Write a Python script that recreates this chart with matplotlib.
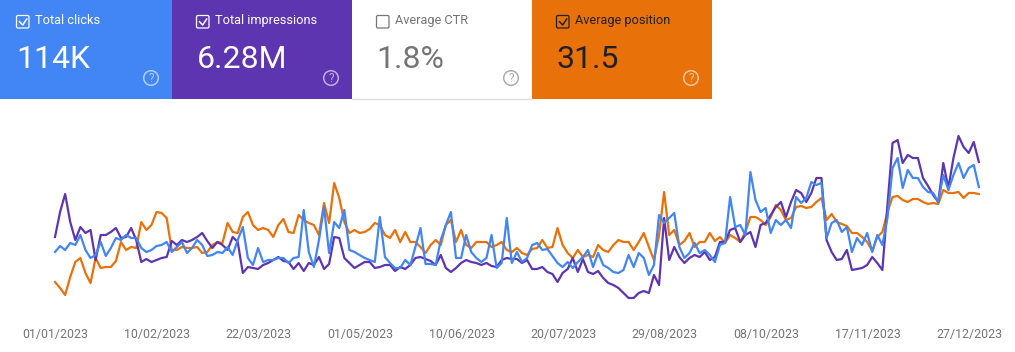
import matplotlib
matplotlib.use('Agg')
import matplotlib.pyplot as plt
from matplotlib.patches import Rectangle, Circle, FancyBboxPatch
import pandas as pd

plt.rcParams['font.family'] = ['Roboto', 'DejaVu Sans']

# kartičky nahoře
card_names = ['Total clicks', 'Total impressions', 'Average CTR', 'Average position']
card_values = ['114K', '6.28M', '1.8%', '31.5']
card_checked = [True, True, False, True]
card_colors = ['#4285f4', '#5e35b1', '#ffffff', '#e8710a']
card_text = ['#ffffff', '#ffffff', '#757575', '#202124']
help_color = ['#ffffff', '#ffffff', '#757575', '#ffffff']

# hodnoty po dvou dnech, relativní měřítko
clicks = [58, 64, 60, 67, 65, 75, 60, 52, 55, 68, 54, 62, 72, 70, 75, 72, 72, 62, 58, 60,
          64, 65, 68, 58, 63, 68, 57, 62, 70, 65, 54, 55, 58, 57, 63, 55, 70, 83, 52, 45,
          62, 48, 50, 50, 52, 52, 47,
          52, 53, 100, 58, 43, 70, 103, 57, 88, 82, 100, 60, 58, 55, 52, 50, 48, 93, 53, 47,
          42, 42, 50, 45, 63, 82, 46, 46, 45, 70, 85, 98, 52, 52, 75, 58, 52, 48, 52, 75,
          42, 47, 92, 47, 58, 48, 52,
          65, 67, 60, 61, 54, 47, 43, 48, 42, 48, 53, 60, 43, 57, 45, 42, 38, 37, 40, 55,
          43, 57, 52, 35, 45, 95, 87, 92, 97, 63, 52, 57, 67, 57, 60, 55, 48, 65, 67, 113,
          83, 85, 75, 138, 110, 98, 102,
          77, 90, 85, 90, 82, 113, 107, 112, 128, 125, 127, 72, 87, 90, 78, 83, 58, 72, 65, 77,
          58, 75, 65, 92, 142, 152, 122, 140, 132, 132, 123, 118, 117, 108, 135, 120, 135, 147,
          132, 142, 145, 123]
impressions = [73, 98, 116, 88, 70, 83, 77, 80, 50, 75, 75, 78, 82, 72, 73, 82, 70, 48, 51, 48,
               50, 52, 53, 69, 65, 70, 68, 70, 73, 77, 69, 62, 68, 65, 60, 73, 68, 37, 43, 42,
               41, 45, 47, 50, 53, 49, 48,
               41, 47, 39, 47, 45, 53, 41, 46, 73, 72, 52, 47, 42, 45, 48, 48, 42, 43, 45, 45,
               39, 43, 41, 45, 52, 53, 51, 49, 45, 55, 42, 38, 42, 47, 50, 48, 47, 45, 47, 44,
               43, 50, 52, 51, 51, 47, 50,
               41, 41, 43, 38, 36, 28, 37, 41, 52, 38, 51, 38, 36, 39, 32, 27, 25, 22, 17, 12,
               12, 17, 19, 17, 35, 25, 92, 50, 63, 53, 47, 52, 55, 53, 58, 50, 53, 68, 68, 80,
               82, 68, 75, 78, 63, 85, 87,
               95, 103, 108, 93, 108, 120, 117, 108, 117, 132, 132, 70, 58, 50, 51, 60, 40, 41, 42, 45,
               53, 47, 40, 105, 167, 170, 147, 155, 152, 152, 132, 124, 115, 108, 147, 122, 152, 174,
               163, 157, 168, 148]
position = [28, 22, 15, 33, 48, 52, 37, 27, 52, 42, 43, 43, 49, 68, 60, 63, 62, 88, 80, 85,
            98, 97, 92, 60, 60, 63, 62, 62, 63, 57, 58, 65, 68, 67, 87, 78, 77, 93, 98, 85,
            80, 82, 80, 73, 85, 91, 78,
            77, 95, 90, 87, 85, 75, 107, 87, 127, 112, 88, 77, 80, 77, 78, 81, 87, 85, 75, 72,
            80, 68, 78, 68, 68, 63, 57, 65, 70, 65, 85, 90, 68, 80, 65, 62, 68, 68, 68, 63,
            65, 68, 60, 58, 62, 57, 55,
            61, 62, 70, 62, 63, 82, 65, 57, 52, 60, 53, 55, 53, 65, 60, 58, 65, 70, 68, 68,
            60, 68, 77, 63, 50, 75, 118, 75, 80, 65, 69, 77, 63, 68, 68, 77, 69, 73, 67, 75,
            72, 68, 78, 93, 93, 90, 85,
            93, 105, 100, 90, 92, 103, 104, 102, 103, 108, 112, 90, 96, 88, 86, 84, 77, 77, 73, 68,
            59, 73, 78, 98, 113, 114, 110, 108, 111, 111, 108, 106, 107, 106, 120, 117, 117, 118,
            112, 117, 117, 116]

tick_labels = ['01/01/2023', '10/02/2023', '22/03/2023', '01/05/2023', '10/06/2023',
               '20/07/2023', '29/08/2023', '08/10/2023', '17/11/2023', '27/12/2023']

W, H = 1015, 352
fig = plt.figure(figsize=(W / 100, H / 100), dpi=100)

# graf
ax = fig.add_axes([0, (H - 310) / H, 1, 210 / H])
days = pd.date_range('2023-01-01', periods=len(clicks), freq='2D')
start = pd.Timestamp('2023-01-01')
px_day = 2.538
ax.set_xlim(start - pd.Timedelta(days=55 / px_day), start + pd.Timedelta(days=(W - 55) / px_day))
ax.set_ylim(0, 210)
ax.plot(days, position, color='#e8710a', lw=1.6)
ax.plot(days, impressions, color='#5e35b1', lw=1.6)
ax.plot(days, clicks, color='#4285f4', lw=1.6)
ax.axis('off')

# vrstva v pixelech pro kartičky a popisky
ov = fig.add_axes([0, 0, 1, 1])
ov.set_xlim(0, W)
ov.set_ylim(H, 0)
ov.axis('off')
ov.patch.set_alpha(0)

card_left = [0, 172, 352, 532]
card_width = [172, 180, 180, 180]
for i in range(4):
    x0 = 180 * i  # obsah kartiček jde po 180 px, první je jen oříznutá
    c = card_text[i]
    ov.add_patch(Rectangle((card_left[i], 0), card_width[i], 99, color=card_colors[i], lw=0))
    # zaškrtávátko
    ov.add_patch(FancyBboxPatch((x0 + 16.5, 15.5), 12.5, 12.5, boxstyle='round,pad=0,rounding_size=1.5',
                                fill=False, ec=c, lw=0.9))
    if card_checked[i]:
        ov.plot([x0 + 19.5, x0 + 22.7, x0 + 26.7], [21.7, 25, 19], color=c, lw=1.1)
    ov.text(x0 + 35.5, 20.5, card_names[i], color=c, fontsize=9.2, va='center', ha='left')
    ov.text(x0 + 16.5, 68, card_values[i], color=c, fontsize=23, va='baseline', ha='left')
    # nápověda
    ov.add_patch(Circle((x0 + 151, 78), 7.3, fill=False, ec=help_color[i], lw=1.1, alpha=0.6))
    ov.text(x0 + 151, 78.5, '?', color=help_color[i], alpha=0.6, fontsize=8.5, ha='center', va='center')
ov.plot([352, 532], [99, 99], color='#e0e0e0', lw=1)

# popisky osy x
for n, lab in enumerate(tick_labels):
    ov.text(55.5 + px_day * 40 * n, 334.5, lab, color='#757575', fontsize=8.9, ha='center', va='center')

fig.savefig('out.png', dpi=100)
